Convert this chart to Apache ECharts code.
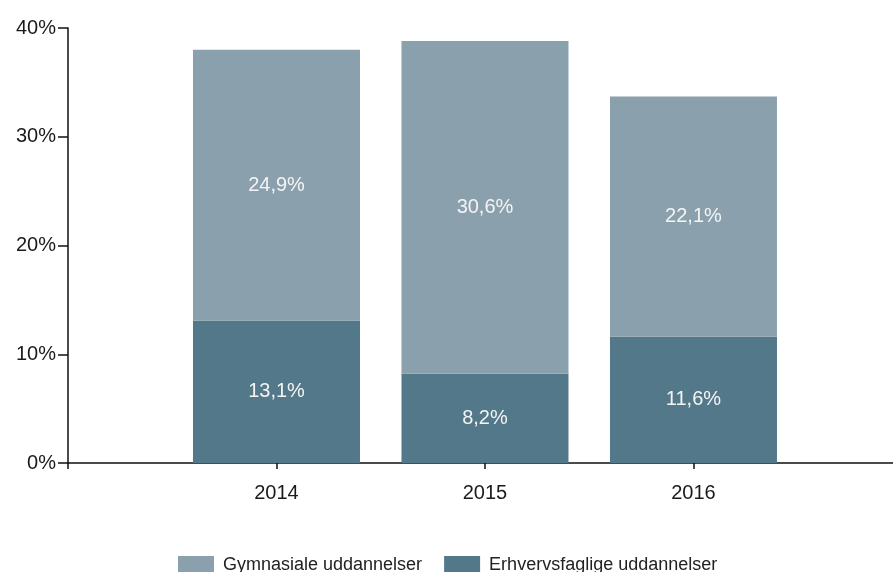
<!DOCTYPE html>
<html>
<head>
<meta charset="utf-8">
<script src="https://cdn.jsdelivr.net/npm/echarts@6/dist/echarts.min.js"></script>
<style>
  html, body { margin: 0; padding: 0; background: #fff; }
  #main { width: 893px; height: 572px; }
</style>
</head>
<body>
<div id="main"></div>
<script>
// data
const years = ['2014', '2015', '2016'];
const erhvervsfaglige = [13.1, 8.2, 11.6];
const gymnasiale = [24.9, 30.6, 22.1];
const yTicks = [0, 10, 20, 30, 40];

const FONT = '"Liberation Sans", Arial, sans-serif';

const chart = echarts.init(document.getElementById('main'));

const pct = v => String(v).replace('.', ',') + '%';
// value first so that the stack runs on it; years sit on slots 1..3 of a numeric x axis
const toPoints = arr => arr.map((v, i) => [v, i + 1]);

const labelStyle = {
    show: true,
    position: 'inside',
    color: '#f4f4f4',
    fontFamily: FONT,
    fontSize: 20,
    formatter: p => pct(p.value[0])
};

chart.setOption({
    animation: false,
    grid: { left: 68, right: 0, top: 28, bottom: 109, containLabel: false },
    legend: {
        data: ['Gymnasiale uddannelser', 'Erhvervsfaglige uddannelser'],
        left: 173,
        top: 551,
        itemWidth: 36,
        itemHeight: 19,
        itemGap: 22,
        icon: 'rect',
        textStyle: { fontFamily: FONT, fontSize: 18, color: '#222', padding: [0, 0, 0, 4] }
    },
    xAxis: {
        type: 'value',
        min: 0,
        max: 3.957,
        interval: 1,
        axisLine: { show: true, lineStyle: { color: '#111', width: 1.5 } },
        axisTick: { show: true, length: 6, lineStyle: { color: '#111', width: 1.5 } },
        axisLabel: {
            color: '#1a1a1a', fontFamily: FONT, fontSize: 20, margin: 20,
            showMaxLabel: false,
            formatter: v => years[v - 1] || ''
        },
        splitLine: { show: false }
    },
    yAxis: {
        type: 'value',
        min: yTicks[0],
        max: yTicks[yTicks.length - 1],
        interval: 10,
        axisLine: { show: true, lineStyle: { color: '#111', width: 1.5 } },
        axisTick: { show: true, inside: false, length: 10, lineStyle: { color: '#111', width: 1.5 } },
        axisLabel: { color: '#1a1a1a', fontFamily: FONT, fontSize: 20, margin: 12, formatter: '{value}%' },
        splitLine: { show: false }
    },
    series: [
        {
            name: 'Erhvervsfaglige uddannelser',
            type: 'bar',
            stack: 'total',
            barWidth: 167,
            encode: { x: 1, y: 0 },
            data: toPoints(erhvervsfaglige),
            itemStyle: { color: '#52788A' },
            label: labelStyle
        },
        {
            name: 'Gymnasiale uddannelser',
            type: 'bar',
            stack: 'total',
            barWidth: 167,
            encode: { x: 1, y: 0 },
            data: toPoints(gymnasiale),
            itemStyle: { color: '#8AA1AD' },
            label: labelStyle
        }
    ]
});
</script>
</body>
</html>
